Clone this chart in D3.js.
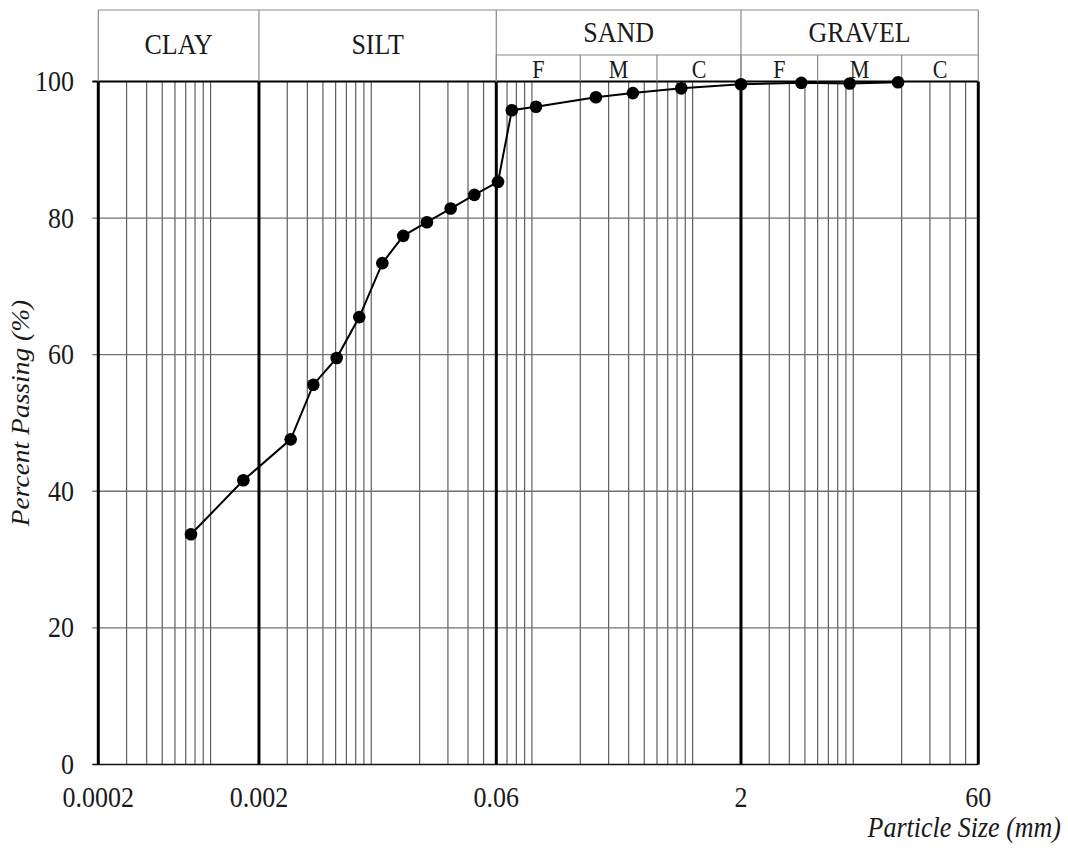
<!DOCTYPE html>
<html>
<head>
<meta charset="utf-8">
<script src="https://cdn.jsdelivr.net/npm/d3@7"></script>
<style>
  html, body { margin: 0; padding: 0; background: #fff; }
  svg { display: block; }
</style>
</head>
<body>
<svg id="chart" width="1068" height="848"></svg>
<script>
// Grain-size distribution (particle size in mm vs. percent passing)
const sizes   = [0.000755, 0.0016, 0.00315, 0.00436, 0.00609, 0.00842, 0.01172, 0.01582,
                 0.0222, 0.0312, 0.0438, 0.0615, 0.075, 0.106, 0.25, 0.425, 0.85, 2.0, 4.75, 9.5, 19];
const passing = [33.7, 41.6, 47.6, 55.6, 59.5, 65.5, 73.4, 77.4,
                 79.4, 81.4, 83.4, 85.3, 95.8, 96.3, 97.7, 98.3, 99.0, 99.6, 99.8, 99.7, 99.9];

const xTickValues = [0.0002, 0.002, 0.06, 2, 60];
const xTickLabels = ["0.0002", "0.002", "0.06", "2", "60"];
const yTickValues = [0, 20, 40, 60, 80, 100];

// Soil classes (boundaries in mm)
const classNames  = ["CLAY", "SILT", "SAND", "GRAVEL"];
const classBounds = [[0.0002, 0.002], [0.002, 0.06], [0.06, 2], [2, 60]];
const subNames    = ["F", "M", "C", "F", "M", "C"];
const subBounds   = [[0.06, 0.2], [0.2, 0.6], [0.6, 2], [2, 6], [6, 20], [20, 60]];

const serif = "'Liberation Serif', Tinos, 'Times New Roman', 'DejaVu Serif', serif";

const svg = d3.select("#chart")
  .attr("font-family", serif)
  .style("font-family", serif);

const plotL = 98.3, plotR = 978.3, plotT = 81.5, plotB = 764.4;
const headTop = 10, subTop = 55;
const ink = "#1a1a1a";
const tall = 1.1;   // glyphs are drawn slightly condensed (taller than wide)
const at = (px, py) => `translate(${px},${py}) scale(1,${tall})`;

const x = d3.scaleLog().domain([0.0002, 60]).range([plotL, plotR]);
const y = d3.scaleLinear().domain([0, 100]).range([plotB, plotT]);

// minor log grid (1..9 multiples of each decade)
const minor = x.ticks().filter(v => !xTickValues.some(t => Math.abs(t - v) / t < 1e-6));
svg.append("g").selectAll("line").data(minor).join("line")
  .attr("x1", d => x(d)).attr("x2", d => x(d))
  .attr("y1", plotT).attr("y2", plotB)
  .attr("stroke", "#5e5e5e").attr("stroke-width", 1.2);

// horizontal grid + left ticks
svg.append("g").selectAll("line").data(yTickValues.filter(v => v > 0 && v < 100)).join("line")
  .attr("x1", plotL - 6).attr("x2", plotR)
  .attr("y1", d => y(d)).attr("y2", d => y(d))
  .attr("stroke", "#707070").attr("stroke-width", 1.3);

// baseline and top border
svg.append("line").attr("x1", plotL - 6).attr("x2", plotR)
  .attr("y1", y(0)).attr("y2", y(0)).attr("stroke", "#111").attr("stroke-width", 1.5);
svg.append("line").attr("x1", plotL - 6).attr("x2", plotR)
  .attr("y1", y(100)).attr("y2", y(100)).attr("stroke", "#000").attr("stroke-width", 2);

// class boundary lines
svg.append("g").selectAll("line").data(xTickValues).join("line")
  .attr("x1", d => x(d)).attr("x2", d => x(d))
  .attr("y1", plotT).attr("y2", plotB)
  .attr("stroke", "#000").attr("stroke-width", 3);

// y tick labels
svg.append("g").selectAll("text").data(yTickValues).join("text")
  .attr("transform", d => at(74, y(d)))
  .attr("dy", "0.33em")
  .attr("text-anchor", "end")
  .attr("font-size", 26).attr("fill", ink)
  .text(d => d);

// x tick labels
svg.append("g").selectAll("text").data(xTickValues).join("text")
  .attr("transform", d => at(x(d), 807))
  .attr("text-anchor", "middle")
  .attr("font-size", 26).attr("fill", ink)
  .text((d, i) => xTickLabels[i]);

// axis titles
svg.append("text")
  .attr("transform", at(1061, 837))
  .attr("text-anchor", "end")
  .attr("font-size", 26).attr("font-style", "italic").attr("fill", ink)
  .text("Particle Size (mm)");
svg.append("text")
  .attr("transform", `translate(29,413) scale(1,${tall}) rotate(-90)`)
  .attr("text-anchor", "middle")
  .attr("font-size", 25).attr("font-style", "italic").attr("fill", ink)
  .text("Percent Passing (%)");

// classification header
const head = svg.append("g");
const hs = { stroke: "#8a8a8a", width: 1.2 };
head.append("line").attr("x1", plotL).attr("x2", plotR).attr("y1", headTop).attr("y2", headTop)
  .attr("stroke", hs.stroke).attr("stroke-width", hs.width);
head.append("line").attr("x1", x(0.06)).attr("x2", plotR).attr("y1", subTop).attr("y2", subTop)
  .attr("stroke", hs.stroke).attr("stroke-width", hs.width);
head.selectAll("line.cb").data(xTickValues).join("line").attr("class", "cb")
  .attr("x1", d => x(d)).attr("x2", d => x(d))
  .attr("y1", headTop).attr("y2", plotT)
  .attr("stroke", hs.stroke).attr("stroke-width", hs.width);
head.selectAll("line.sb").data(subBounds).join("line").attr("class", "sb")
  .attr("x1", d => x(d[0])).attr("x2", d => x(d[0]))
  .attr("y1", subTop).attr("y2", plotT)
  .attr("stroke", hs.stroke).attr("stroke-width", hs.width);

head.selectAll("text.cn").data(classNames).join("text").attr("class", "cn")
  .attr("transform", (d, i) => at((x(classBounds[i][0]) + x(classBounds[i][1])) / 2, i < 2 ? 53.5 : 41.5))
  .attr("text-anchor", "middle")
  .attr("font-size", 26).attr("fill", ink)
  .text(d => d);
head.selectAll("text.sn").data(subNames).join("text").attr("class", "sn")
  .attr("transform", (d, i) => at((x(subBounds[i][0]) + x(subBounds[i][1])) / 2, 77.5))
  .attr("text-anchor", "middle")
  .attr("font-size", 22).attr("fill", ink)
  .text(d => d);

// gradation curve
const pts = sizes.map((s, i) => [s, passing[i]]);
svg.append("path").datum(pts)
  .attr("fill", "none").attr("stroke", "#000").attr("stroke-width", 2)
  .attr("d", d3.line().x(d => x(d[0])).y(d => y(d[1])));
svg.append("g").selectAll("circle").data(pts).join("circle")
  .attr("cx", d => x(d[0])).attr("cy", d => y(d[1]))
  .attr("r", 6.3).attr("fill", "#000");
</script>
</body>
</html>
